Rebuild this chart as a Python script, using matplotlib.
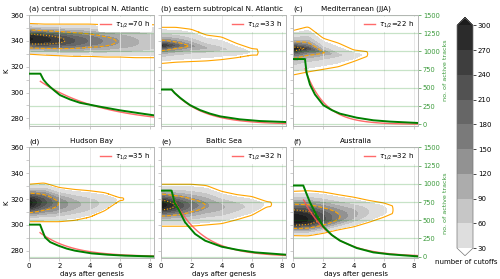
import numpy as np
import matplotlib.pyplot as plt
from matplotlib.colors import ListedColormap, BoundaryNorm
from matplotlib.cm import ScalarMappable
from matplotlib.ticker import MultipleLocator
from matplotlib.lines import Line2D

plt.rcParams["font.family"] = "DejaVu Sans"
plt.rcParams["font.size"] = 4.8

letters = ["(a)", "(b)", "(c)", "(d)", "(e)", "(f)"]
regions = ["central subtropical N. Atlantic", "eastern subtropical N. Atlantic",
           "Mediterranean (JJA)", "Hudson Bay", "Baltic Sea", "Australia"]
tau_half_h = [70, 33, 22, 35, 32, 32]

# number of active tracks (right axis)
track_days = [
    [0, 0.75, 0.95, 1.17, 1.39, 1.72, 2.05, 2.71, 3.37, 4.7, 6.03, 7.35, 8.25],
    [0, 0.7, 0.9, 1.26, 1.6, 1.92, 2.58, 3.24, 3.9, 5.2, 6.5, 8.25],
    [0, 0.79, 0.9, 1.12, 1.45, 2.0, 2.56, 3.1, 4.2, 5.3, 6.4, 8.25],
    [0, 0.73, 0.84, 1.06, 1.4, 1.94, 2.5, 3.04, 4.14, 5.2, 6.35, 8.25],
    [0, 0.7, 0.9, 1.15, 1.59, 2.25, 2.91, 4.0, 5.1, 6.2, 8.25],
    [0, 0.68, 0.9, 1.12, 1.57, 2.0, 2.56, 3.1, 4.2, 5.3, 6.4, 8.25],
]
track_counts = [
    [695, 695, 614, 559, 514, 455, 400, 341, 295, 241, 191, 150, 123],
    [477, 477, 430, 364, 310, 263, 195, 146, 109, 68, 45, 31],
    [896, 896, 705, 545, 409, 263, 195, 146, 91, 55, 37, 18],
    [440, 440, 380, 265, 200, 151, 110, 82, 45, 27, 14, 3],
    [907, 907, 740, 655, 471, 312, 220, 137, 92, 59, 27],
    [977, 977, 860, 746, 563, 412, 298, 220, 119, 59, 32, 4],
]
# exponential fit (half-life tau) start
fit_start_day = [0.75, 0.7, 0.79, 0.73, 0.75, 0.7]
fit_start_count = [590, 477, 760, 330, 830, 780]

# cutoff density (left axis), read per day after genesis
knot_days = [0, 1, 2, 3, 4, 5, 6, 7, 8]
ridge_K = [
    [341.5, 341, 340.5, 340, 340, 339.5, 339.5, 339, 339],
    [336.5, 336.5, 336, 334.5, 334, 332, 331, 331, 331],
    [334, 334, 331, 329, 328.5, 330, 330, 330, 330],
    [317, 317.5, 316.5, 316, 316, 317, 320, 320, 320],
    [315.5, 315, 315, 315, 314, 314, 314.5, 316, 316],
    [304, 304, 304.5, 306, 308, 310, 311, 312, 312],
]
spread_up = [
    [12, 12, 12.5, 13, 13, 13, 13, 13.5, 13.5],
    [14, 14, 13, 10, 9, 6, 3, 2, 2],
    [14, 17, 11, 9.3, 4.5, 1.5, 1, 1, 1],
    [14.5, 15, 12.5, 11.5, 10.5, 8, 1, 1, 1],
    [16, 16.5, 16.5, 15.5, 12, 9.5, 7.5, 2, 1],
    [22, 22.5, 21, 17.4, 13.5, 9, 6, 1, 1],
]
spread_down = [
    [11.8, 12, 12, 12, 12, 12, 12, 12, 12],
    [14, 13, 12, 10, 8.5, 5, 2, 2, 2],
    [20.4, 18, 13, 9, 4.5, 1.5, 1, 1, 1],
    [14.5, 15, 14, 12.5, 10, 6, 1, 1, 1],
    [16.5, 16, 16, 15, 13, 10, 7, 2, 1],
    [12.3, 12.5, 11, 9.8, 9.5, 8, 5, 1, 1],
]
peak_count = [
    [305, 285, 250, 210, 175, 145, 118, 95, 75],
    [280, 200, 130, 90, 65, 50, 27, 10, 5],
    [330, 230, 120, 65, 45, 18, 8, 4, 2],
    [320, 220, 145, 100, 75, 50, 24, 8, 4],
    [330, 250, 170, 125, 95, 70, 50, 25, 8],
    [340, 300, 220, 150, 100, 60, 35, 10, 4],
]
profile_shape = [2.1, 1.1, 1.0, 2.0, 1.7, 2.0]
dashed_level = [125, 140, 115, 150, 128, 145]
dotted_level = [235, None, 255, None, 255, 240]
outer_level = 20

levels = np.arange(30, 301, 30)
greys = ["#dedede", "#c6c6c6", "#acacac", "#929292", "#7a7a7a",
         "#666666", "#525252", "#3e3e3e", "#2b2b2b"]
cmap = ListedColormap(greys)
cmap.set_over("#1c1c1c")
cmap.set_under("white")
norm = BoundaryNorm(levels, cmap.N)

green = "#008000"
label_green = "#3a9a3a"
spine_grey = "#b8b8b8"
fit_red = "#ff5050"

fig = plt.figure(figsize=(5, 2.79), dpi=100)
col_left = [0.058, 0.322, 0.586]
row_bottom = [0.548, 0.0735]
width, height = 0.25, 0.398

tt = np.linspace(0, 8.25, 166)
KK = np.linspace(270, 362, 369)
T, K = np.meshgrid(tt, KK)


def smooth(y, n=9):
    # soften the kinks between the daily read-offs
    w = np.hanning(n + 2)[1:-1]
    w /= w.sum()
    pad = n // 2
    yp = np.concatenate([np.full(pad, y[0]), y, np.full(pad, y[-1])])
    return np.convolve(yp, w, mode="valid")


for i in range(6):
    row, col = divmod(i, 3)
    ax = fig.add_axes([col_left[col], row_bottom[row], width, height])

    # density field from the ridge read-offs
    c = smooth(np.interp(tt, knot_days, ridge_K[i]))
    up = smooth(np.interp(tt, knot_days, spread_up[i]))
    dn = smooth(np.interp(tt, knot_days, spread_down[i]))
    pk = smooth(np.interp(tt, knot_days, peak_count[i]))
    d = K - c
    hw = np.where(d > 0, up, dn)
    rate = np.log(np.maximum(pk, outer_level + 1) / outer_level)
    field = pk * np.exp(-rate * np.abs(d / hw) ** profile_shape[i])

    ax.contourf(T, K, field, levels=levels, cmap=cmap, norm=norm, extend="max")
    ax.contour(T, K, field, levels=[outer_level], colors="orange", linewidths=0.8)
    ax.contour(T, K, field, levels=[dashed_level[i]], colors="orange",
               linewidths=0.8, linestyles="--")
    if dotted_level[i] is not None:
        ax.contour(T, K, field, levels=[dotted_level[i]], colors="orange",
                   linewidths=0.8, linestyles=":")

    ax.set_xlim(0, 8.25)
    ax.set_ylim(274, 360)
    ax.set_xticks([0, 2, 4, 6, 8])
    ax.set_yticks([280, 300, 320, 340, 360])
    ax.yaxis.set_minor_locator(MultipleLocator(10))
    ax.grid(axis="x", color="#e4e4e4", lw=0.6)
    ax.tick_params(which="both", length=2, width=0.5, color=spine_grey, pad=1.5,
                   labelsize=5.0)
    if col != 0:
        ax.tick_params(labelleft=False)
    else:
        ax.set_ylabel("K", labelpad=1, fontsize=5.0)
    if row == 0:
        ax.tick_params(labelbottom=False)
    else:
        ax.set_xlabel("days after genesis", labelpad=1, fontsize=5.0)
    if len(regions[i]) > 20:
        ax.set_title(letters[i] + " " + regions[i], loc="left", pad=3, fontsize=5.2)
    else:
        ax.set_title(letters[i], loc="left", pad=3, fontsize=5.2)
        ax.set_title(regions[i], pad=3, fontsize=5.2)

    ax2 = ax.twinx()
    ax2.set_ylim(-25, 1500)
    ax2.set_yticks(np.arange(0, 1501, 250))
    ax2.grid(axis="y", color=green, alpha=0.22, lw=0.9)
    tf = np.linspace(fit_start_day[i], 8.25, 120)
    fit = fit_start_count[i] * 2 ** (-(tf - fit_start_day[i]) * 24 / tau_half_h[i])
    ax2.plot(tf, fit, color=fit_red, lw=1.0, alpha=0.85, zorder=3)
    ax2.plot(track_days[i], track_counts[i], color=green, lw=1.4, zorder=4)
    if col == 2:
        ax2.tick_params(length=2, width=0.5, color=label_green, labelcolor=label_green,
                        pad=1.5, labelsize=4.8)
        ax2.set_ylabel("no. of active tracks", color=label_green, labelpad=2, fontsize=4.6)
    else:
        ax2.tick_params(right=False, labelright=False)
    handle = Line2D([], [], color=fit_red, lw=1.0, alpha=0.85)
    ax2.legend([handle], [r"$\tau_{1/2}$=%d h" % tau_half_h[i]], loc="upper right",
               fontsize=5.0, frameon=True, facecolor="white", edgecolor="none", framealpha=1,
               handlelength=1.5, borderpad=0.3, borderaxespad=0.3, handletextpad=0.6)
    for a in (ax, ax2):
        for s in a.spines.values():
            s.set_color(spine_grey)
            s.set_linewidth(0.6)

cax = fig.add_axes([0.914, 0.0835, 0.032, 0.853])
cb = fig.colorbar(ScalarMappable(norm=norm, cmap=cmap), cax=cax, extend="both",
                  extendfrac=0.034, ticks=levels)
cb.outline.set_edgecolor("#777777")
cb.outline.set_linewidth(0.5)
cax.tick_params(length=2, width=0.5, pad=1.5, labelsize=5.0)
fig.text(0.932, 0.061, "number of cutoffs", ha="center", va="center", fontsize=5.0)

fig.savefig("out.png", dpi=100)
